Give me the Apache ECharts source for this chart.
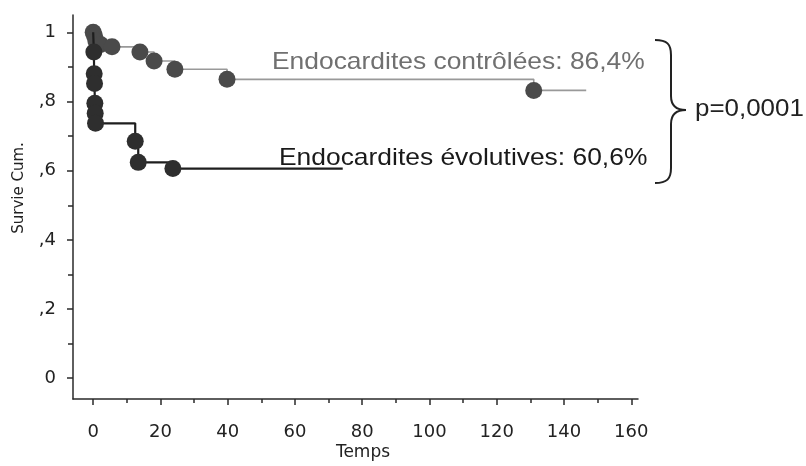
<!DOCTYPE html>
<html>
<head>
<meta charset="utf-8">
<script src="https://cdn.jsdelivr.net/npm/echarts@6/dist/echarts.min.js"></script>
<style>
  html, body { margin: 0; padding: 0; background: #ffffff; }
  #chart { width: 806px; height: 466px; }
</style>
</head>
<body>
<div id="chart"></div>
<script>
// Kaplan-Meier survival, endocarditis groups (time in months)
const controlTime = [0, 0.4, 0.8, 2.2, 5.6, 13.9, 18.1, 24.3, 39.8, 131.0, 146.6];
const controlSurv = [1.0, 0.99, 0.975, 0.965, 0.958, 0.943, 0.917, 0.893, 0.864, 0.832, 0.832];

const evolTime = [0, 0.2, 0.3, 0.4, 0.5, 0.6, 0.7, 12.5, 13.4, 23.7, 74.2];
const evolSurv = [1.0, 0.943, 0.88, 0.852, 0.795, 0.766, 0.737, 0.685, 0.624, 0.606, 0.606];

const xMajorTicks = [0, 20, 40, 60, 80, 100, 120, 140, 160];
const xMinorTicks = [10, 30, 50, 70, 90, 110, 130, 150];
const yMajorTicks = [0, 0.2, 0.4, 0.6, 0.8, 1];
const yTickLabels = ['0', ',2', ',4', ',6', ',8', '1'];
const yMinorTicks = [0.1, 0.3, 0.5, 0.7, 0.9];

const xTitle = 'Temps';
const yTitle = 'Survie Cum.';
const controlLabel = 'Endocardites contrôlées: 86,4%';
const evolLabel = 'Endocardites évolutives: 60,6%';
const pLabel = 'p=0,0001';

// step points; no marker on the curve start and the end of follow-up
function stepData(times, surv, skipFirst) {
  return times.map((t, i) => {
    const item = { value: [t, surv[i]] };
    if ((skipFirst && i === 0) || i === times.length - 1) item.symbol = 'none';
    return item;
  });
}

const axisColor = '#2a2a2a';
const tickFont = { fontFamily: 'DejaVu Sans', fontSize: 18, color: '#222' };

// curly brace grouping the two curve labels
const braceStyle = { fill: 'none', stroke: '#222', lineWidth: 2 };
const brace = [
  { type: 'bezierCurve', shape: { x1: 655, y1: 40, cpx1: 667, cpy1: 40, cpx2: 671, cpy2: 44, x2: 671, y2: 55 } },
  { type: 'line', shape: { x1: 671, y1: 55, x2: 671, y2: 96 } },
  { type: 'bezierCurve', shape: { x1: 671, y1: 96, cpx1: 671, cpy1: 105, cpx2: 675, cpy2: 110, x2: 686, y2: 110 } },
  { type: 'bezierCurve', shape: { x1: 686, y1: 110, cpx1: 675, cpy1: 110, cpx2: 671, cpy2: 115, x2: 671, y2: 124 } },
  { type: 'line', shape: { x1: 671, y1: 124, x2: 671, y2: 168 } },
  { type: 'bezierCurve', shape: { x1: 671, y1: 168, cpx1: 671, cpy1: 179, cpx2: 667, cpy2: 183, x2: 655, y2: 183 } }
].map(el => Object.assign(el, { z: 10, style: braceStyle }));

const chart = echarts.init(document.getElementById('chart'), null, { renderer: 'canvas' });

chart.setOption({
  animation: false,
  backgroundColor: '#ffffff',
  grid: { left: 73, right: 168, top: 15, bottom: 67 },
  xAxis: [
    {
      type: 'value', min: -6, max: 162, position: 'bottom',
      splitLine: { show: false },
      axisLine: { show: true, onZero: false, lineStyle: { color: axisColor, width: 1.5 } },
      axisTick: { show: true, length: 6, customValues: xMajorTicks, lineStyle: { color: axisColor, width: 1.5 } },
      axisLabel: Object.assign({ customValues: xMajorTicks, margin: 24 }, tickFont)
    },
    {
      type: 'value', min: -6, max: 162, position: 'bottom',
      splitLine: { show: false },
      axisLine: { show: false, onZero: false },
      axisTick: { show: true, length: 4, customValues: xMinorTicks, lineStyle: { color: axisColor, width: 1.5 } },
      axisLabel: { show: false }
    }
  ],
  yAxis: [
    {
      type: 'value', min: -0.06, max: 1.05, position: 'left',
      splitLine: { show: false },
      axisLine: { show: true, onZero: false, lineStyle: { color: axisColor, width: 1.5 } },
      axisTick: { show: true, length: 6, customValues: yMajorTicks, lineStyle: { color: axisColor, width: 1.5 } },
      axisLabel: Object.assign({
        customValues: yMajorTicks, margin: 17,
        formatter: v => yTickLabels[yMajorTicks.findIndex(m => Math.abs(m - v) < 1e-6)]
      }, tickFont)
    },
    {
      type: 'value', min: -0.06, max: 1.05, position: 'left',
      splitLine: { show: false },
      axisLine: { show: false, onZero: false },
      axisTick: { show: true, length: 5, customValues: yMinorTicks, lineStyle: { color: axisColor, width: 1.5 } },
      axisLabel: { show: false }
    }
  ],
  series: [
    {
      name: 'contrôlées', type: 'line', step: 'end',
      xAxisIndex: 0, yAxisIndex: 0,
      data: stepData(controlTime, controlSurv, false),
      symbol: 'circle', symbolSize: 17, showAllSymbol: true,
      itemStyle: { color: '#4a4a4a' },
      lineStyle: { color: '#999999', width: 1.6 },
      z: 2
    },
    {
      name: 'évolutives', type: 'line', step: 'end',
      xAxisIndex: 0, yAxisIndex: 0,
      data: stepData(evolTime, evolSurv, true),
      symbol: 'circle', symbolSize: 17, showAllSymbol: true,
      itemStyle: { color: '#2e2e2e' },
      lineStyle: { color: '#1e1e1e', width: 2.2 },
      z: 3
    }
  ],
  graphic: [
    {
      type: 'text', x: 363, y: 453, z: 10,
      style: { text: xTitle, fontFamily: 'DejaVu Sans', fontSize: 17, fill: '#222', verticalAlign: 'middle', align: 'center' }
    },
    {
      type: 'text', x: 19, y: 188, rotation: Math.PI / 2, z: 10,
      style: { text: yTitle, fontFamily: 'DejaVu Sans', fontSize: 15, fill: '#222', verticalAlign: 'middle', align: 'center' }
    },
    {
      type: 'text', x: 272, y: 62, scaleX: 1.1, z: 10,
      style: { text: controlLabel, fontFamily: 'Liberation Sans', fontSize: 24, fill: '#707070', verticalAlign: 'middle', align: 'left' }
    },
    {
      type: 'text', x: 279, y: 158, scaleX: 1.1, z: 10,
      style: { text: evolLabel, fontFamily: 'Liberation Sans', fontSize: 24, fill: '#1a1a1a', verticalAlign: 'middle', align: 'left' }
    },
    {
      type: 'text', x: 695, y: 109, scaleX: 1.08, z: 10,
      style: { text: pLabel, fontFamily: 'Liberation Sans', fontSize: 24, fill: '#222', verticalAlign: 'middle', align: 'left' }
    }
  ].concat(brace)
});
</script>
</body>
</html>
